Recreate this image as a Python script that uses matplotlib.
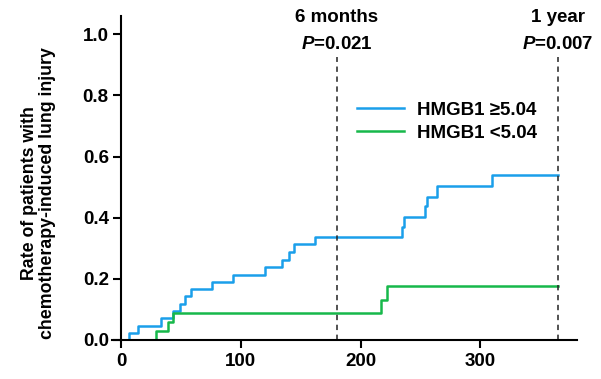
import matplotlib
matplotlib.use("Agg")
import matplotlib.pyplot as plt

plt.rcParams["font.family"] = ["Liberation Sans", "DejaVu Sans"]
plt.rcParams["font.weight"] = "bold"
plt.rcParams["mathtext.fontset"] = "custom"
plt.rcParams["mathtext.it"] = "Liberation Sans:italic:bold"
plt.rcParams["mathtext.rm"] = "Liberation Sans:bold"

# ---------------- DATA ----------------

high_days = [0, 6, 14, 33, 43, 49, 53, 58, 76, 93, 120, 134, 140, 144, 162,
             235, 236, 254, 256, 264, 310, 365]
high_rate = [0, 0.024, 0.047, 0.071, 0.095, 0.119, 0.143, 0.167, 0.190, 0.214,
             0.238, 0.262, 0.287, 0.313, 0.338, 0.371, 0.402, 0.437, 0.468,
             0.505, 0.540, 0.540]

low_days = [0, 29, 39, 43, 217, 222, 365]
low_rate = [0, 0.030, 0.058, 0.087, 0.131, 0.175, 0.175]

mark_days = [180, 365]
mark_names = ["6 months", "1 year"]
mark_p = ["0.021", "0.007"]

labels = ["HMGB1 \u22655.04", "HMGB1 <5.04"]
colors = ["#1a9fea", "#17b84a"]

# ---------------- PLOT ----------------

fig = plt.figure(figsize=(6.01, 3.79), dpi=100)
ax = fig.add_axes([0.186, 0.103, 0.774, 0.855])

ax.step(high_days, high_rate, where="post", color=colors[0], lw=1.8, label=labels[0])
ax.step(low_days, low_rate, where="post", color=colors[1], lw=1.8, label=labels[1])

for d, name, p in zip(mark_days, mark_names, mark_p):
    ax.plot([d, d], [0, 0.925], ls=(0, (3.5, 3)), color="#222222", lw=1.1)
    ax.text(d, 1.055, name, ha="center", va="center", fontsize=13.5, fontweight="bold")
    ax.text(d, 0.968, "$\\it{P}$=" + p, ha="center", va="center",
            fontsize=13.5, fontweight="bold")

ax.set_xlim(-8, 381)
ax.set_ylim(0, 1.06)
ax.spines["left"].set_position(("data", 0))
ax.spines["left"].set_bounds(0, 1.06)
ax.spines["top"].set_visible(False)
ax.spines["right"].set_visible(False)
for s in ["left", "bottom"]:
    ax.spines[s].set_linewidth(1.5)

ax.set_xticks([0, 100, 200, 300])
ax.set_yticks([0, 0.2, 0.4, 0.6, 0.8, 1.0])
ax.set_yticklabels(["0.0", "0.2", "0.4", "0.6", "0.8", "1.0"])
ax.tick_params(axis="both", direction="out", length=6, width=1.5, labelsize=13.5)
ax.tick_params(axis="y", pad=3)

fig.text(0.064, 0.49, "Rate of patients with\nchemotherapy-induced lung injury",
         rotation=90, ha="center", va="center", fontsize=12.8,
         fontweight="bold", linespacing=1.05)

ax.legend(loc="upper left", bbox_to_anchor=(0.527, 0.735), frameon=False,
          fontsize=13.5, handlelength=2.5, handletextpad=0.7, labelspacing=0.3,
          borderpad=0, borderaxespad=0)

plt.savefig("out.png", dpi=100)
